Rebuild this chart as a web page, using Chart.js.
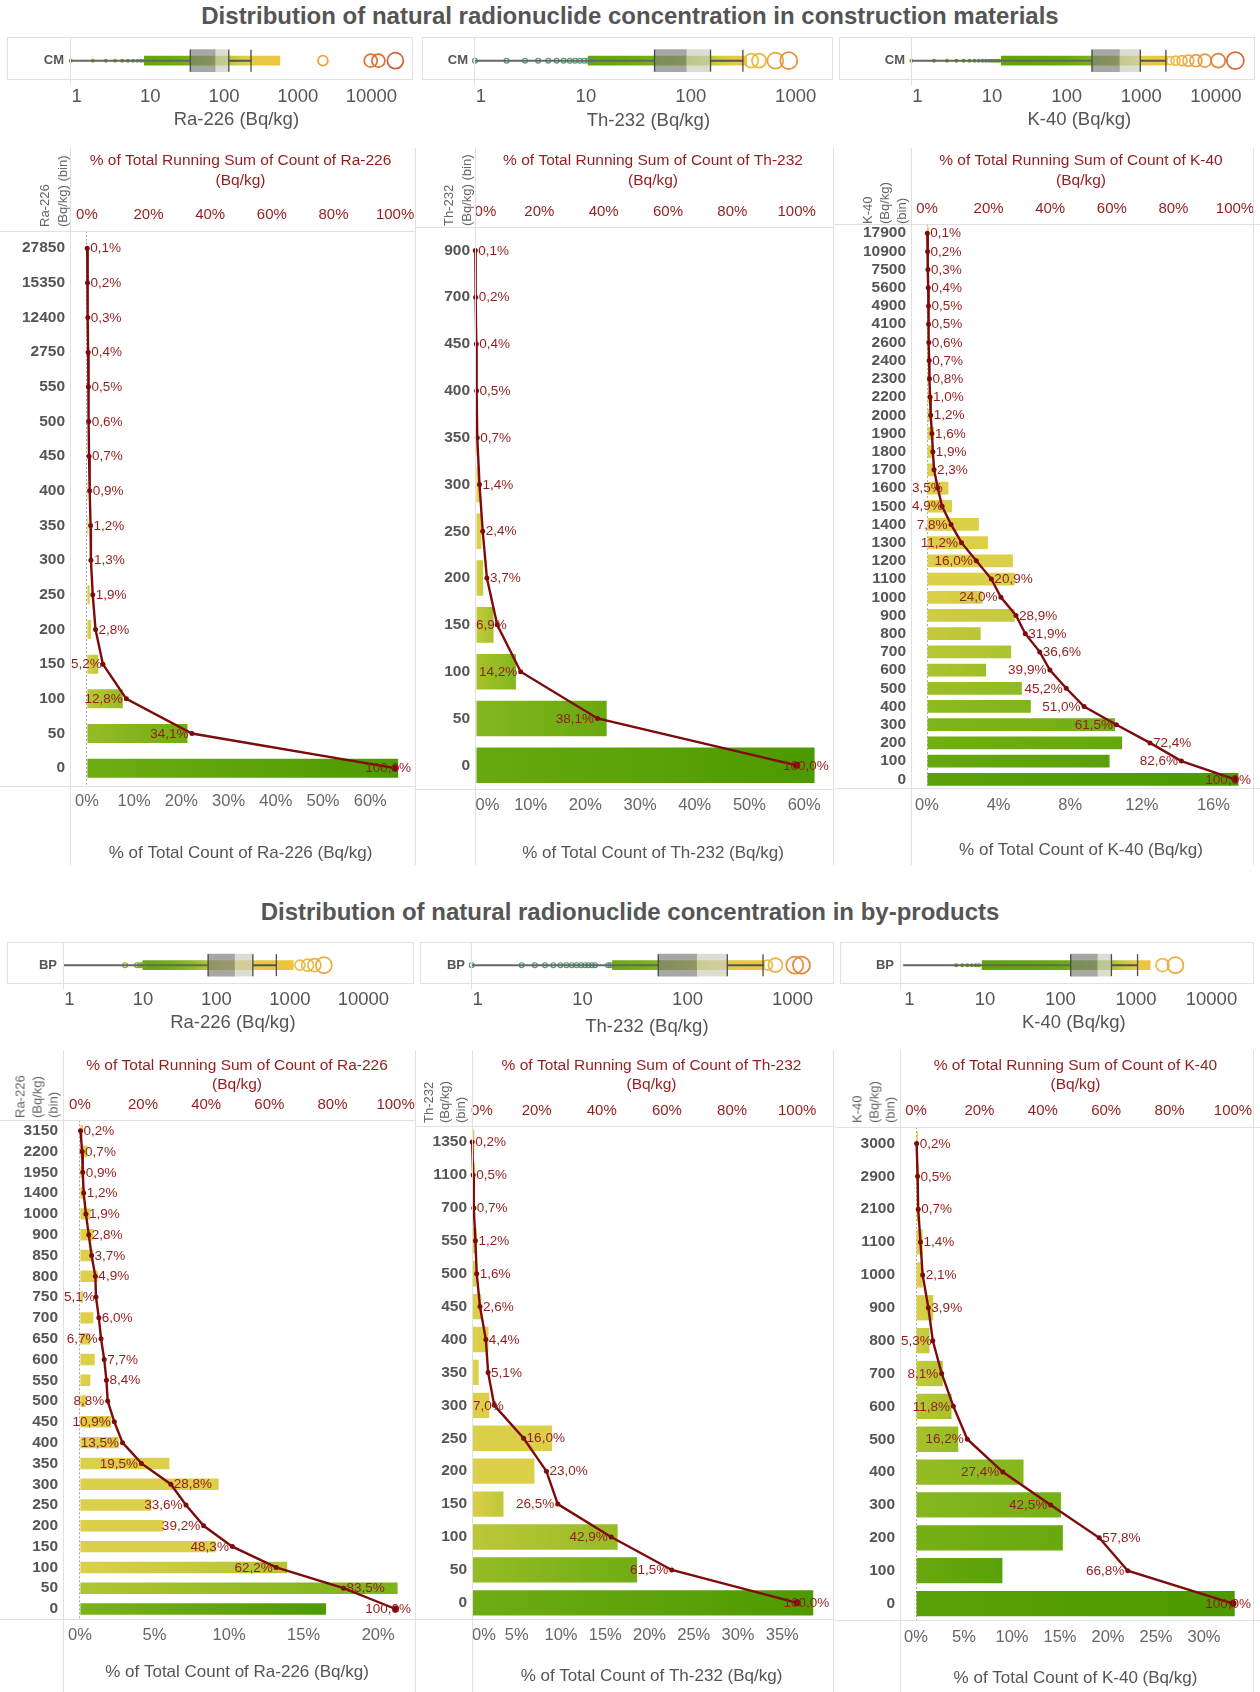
<!DOCTYPE html>
<html><head><meta charset="utf-8">
<script src="https://cdn.jsdelivr.net/npm/chart.js@4.4.1/dist/chart.umd.min.js"></script>
<style>
body{margin:0;background:#fff;width:1260px;height:1692px;position:relative;overflow:hidden;font-family:"Liberation Sans",Arial,sans-serif;}
.title{position:absolute;left:0;width:1260px;text-align:center;font-weight:bold;font-size:24px;line-height:28px;color:#555;}
.hl{position:absolute;height:1px;background:#e1e1e1;}
.vl{position:absolute;width:1px;background:#e1e1e1;}
.ytitle{position:absolute;writing-mode:vertical-rl;transform:rotate(180deg);font-size:13px;color:#666;text-align:start;white-space:nowrap;}
canvas{position:absolute;}
</style></head><body>
<div class="title" style="top:2px">Distribution of natural radionuclide concentration in construction materials</div>
<div class="title" style="top:898px">Distribution of natural radionuclide concentration in by-products</div>
<script>
// ===== Histogram data: bins (Bq/kg), % of total count, % of total running sum =====
// Construction materials (CM)
const raCmBins = ['27850','15350','12400','2750','550','500','450','400','350','300','250','200','150','100','50','0'];
const raCmShare = [0.1,0.1,0.1,0.1,0.1,0.1,0.1,0.2,0.3,0.1,0.6,0.9,2.4,7.6,21.3,65.9];
const raCmRunning = [0.1,0.2,0.3,0.4,0.5,0.6,0.7,0.9,1.2,1.3,1.9,2.8,5.2,12.8,34.1,100.0];

const thCmBins = ['900','700','450','400','350','300','250','200','150','100','50','0'];
const thCmShare = [0.1,0.1,0.2,0.1,0.2,0.7,1.0,1.3,3.2,7.3,23.9,61.9];
const thCmRunning = [0.1,0.2,0.4,0.5,0.7,1.4,2.4,3.7,6.9,14.2,38.1,100.0];

const kCmBins = ['17900','10900','7500','5600','4900','4100','2600','2400','2300','2200','2000','1900','1800','1700','1600','1500','1400','1300','1200','1100','1000','900','800','700','600','500','400','300','200','100','0'];
const kCmShare = [0.1,0.1,0.1,0.1,0.1,0.05,0.1,0.1,0.1,0.2,0.2,0.4,0.3,0.4,1.2,1.4,2.9,3.4,4.8,4.9,3.1,4.9,3.0,4.7,3.3,5.3,5.8,10.5,10.9,10.2,17.4];
const kCmRunning = [0.1,0.2,0.3,0.4,0.5,0.5,0.6,0.7,0.8,1.0,1.2,1.6,1.9,2.3,3.5,4.9,7.8,11.2,16.0,20.9,24.0,28.9,31.9,36.6,39.9,45.2,51.0,61.5,72.4,82.6,100.0];

// By-products (BP)
const raBpBins = ['3150','2200','1950','1400','1000','900','850','800','750','700','650','600','550','500','450','400','350','300','250','200','150','100','50','0'];
const raBpShare = [0.2,0.5,0.2,0.3,0.7,0.9,0.9,1.2,0.2,0.9,0.7,1.0,0.7,0.4,2.1,2.6,6.0,9.3,4.8,5.6,9.1,13.9,21.3,16.5];
const raBpRunning = [0.2,0.7,0.9,1.2,1.9,2.8,3.7,4.9,5.1,6.0,6.7,7.7,8.4,8.8,10.9,13.5,19.5,28.8,33.6,39.2,48.3,62.2,83.5,100.0];

const thBpBins = ['1350','1100','700','550','500','450','400','350','300','250','200','150','100','50','0'];
const thBpShare = [0.2,0.3,0.2,0.5,0.4,1.0,1.8,0.7,1.9,9.0,7.0,3.5,16.4,18.6,38.5];
const thBpRunning = [0.2,0.5,0.7,1.2,1.6,2.6,4.4,5.1,7.0,16.0,23.0,26.5,42.9,61.5,100.0];

const kBpBins = ['3000','2900','2100','1100','1000','900','800','700','600','500','400','300','200','100','0'];
const kBpShare = [0.2,0.3,0.2,0.7,0.7,1.8,1.4,2.8,3.7,4.4,11.2,15.1,15.3,9.0,33.2];
const kBpRunning = [0.2,0.5,0.7,1.4,2.1,3.9,5.3,8.1,11.8,16.2,27.4,42.5,57.8,66.8,100.0];

// ===== Tick labels =====
const runTicks = [0,20,40,60,80,100];
const raCmTicks = [0,10,20,30,40,50,60];
const thCmTicks = [0,10,20,30,40,50,60];
const kCmTicks = [0,4,8,12,16];
const raBpTicks = [0,5,10,15,20];
const thBpTicks = [0,5,10,15,20,25,30,35];
const kBpTicks = [0,5,10,15,20,25,30];
const logTicksWide = [1,10,100,1000,10000];
const logTicksTh = [1,10,100,1000];

// ===== Box plots (Bq/kg): whisker low, Q1, median, Q3, whisker high =====
const raCmBox = [1,42,91,140,280];
const thCmBox = [1,51.5,103,176,358];
const kCmBox = [1,263,611,1167,2570];
const raBpBox = [1,93,212,378,790];
const thBpBox = [1,60,139,273,598];
const kBpBox = [1,164,368,568,1260];
// single low values
const raCmLow = [1,2,3,4,5,6,7,8,9,10,11,12];
const thCmLow = [1,2,3,4,5,6,7,8,9,10,11,12,13];
const kCmLow = [1,2,3,4,5,6,7,8,9,10,11,12,13,14,15];
const raBpLow = [6.9,10,11,12];
const thBpLow = [1,3,4,5,6,7,8,9,10,11,12,13,14,15,20,21];
const kBpLow = [5,6,7,8,9,10];
// dense range of measured values
const raCmDense = [10,690];
const thCmDense = [12,390];
const kCmDense = [16,2700];
const raBpDense = [12,1340];
const thBpDense = [22,620];
const kBpDense = [11,1850];
// outliers and their marker sizes
const raCmOut = [2650,11800,15000,25500];
const raCmOutSize = [5,6.5,6.5,8];
const thCmOut = [430,510,730,980];
const thCmOutSize = [7,7,8,8.5];
const kCmOut = [2950,3470,4230,5130,6500,8530,12900,21900];
const kCmOutSize = [4,4.5,5,5.5,6,6.5,7,8.5];
const raBpOut = [1650,2100,2600,3500];
const raBpOutSize = [5,6,6.5,8];
const thBpOut = [660,785,1200,1390];
const thBpOutSize = [5,7,8.5,8.5];
const kBpOut = [2700,4000];
const kBpOutSize = [6.5,8];

// ===== styles =====
const FONT = '"Liberation Sans", Arial, sans-serif';
Chart.defaults.font.family = FONT;
const RED_LINE = '#7d0b0b';
const RED_TEXT = '#951c1c';
const GRAY = '#555555';

function hex(h){return [parseInt(h.slice(1,3),16),parseInt(h.slice(3,5),16),parseInt(h.slice(5,7),16)];}
function mix(c0,c1,f){const a=hex(c0),b=hex(c1);return 'rgb('+a.map((v,k)=>Math.round(v+(b[k]-v)*f)).join(',')+')';}
const RAMP = [[0,'#4c9a00'],[0.35,'#7db41a'],[0.65,'#afc430'],[1,'#dccf4a']];
function ramp(t){
  t=Math.max(0,Math.min(1,t));
  for(let i=1;i<RAMP.length;i++){ if(t<=RAMP[i][0]){const f=(t-RAMP[i-1][0])/(RAMP[i][0]-RAMP[i-1][0]);return mix(RAMP[i-1][1],RAMP[i][1],f);} }
  return RAMP[RAMP.length-1][1];
}
function outColor(t){ t=Math.max(0,Math.min(1,t)); return t<0.5?mix('#efc445','#e8953c',t/0.5):mix('#e8953c','#cc5530',(t-0.5)/0.5); }

function mkCanvas(l,t,w,h){const c=document.createElement('canvas');c.width=w;c.height=h;c.style.left=l+'px';c.style.top=t+'px';c.style.width=w+'px';c.style.height=h+'px';document.body.appendChild(c);return c;}
function hl(x1,x2,y){const d=document.createElement('div');d.className='hl';d.style.left=x1+'px';d.style.width=(x2-x1)+'px';d.style.top=Math.round(y)+'px';document.body.appendChild(d);}
function vl(x,y1,y2){const d=document.createElement('div');d.className='vl';d.style.left=Math.round(x)+'px';d.style.top=y1+'px';d.style.height=(y2-y1)+'px';document.body.appendChild(d);}
function ytitle(l,bottom,lines,lh){const d=document.createElement('div');d.className='ytitle';d.style.left=l+'px';d.style.top=(bottom-90)+'px';d.style.height='90px';d.style.lineHeight=lh+'px';d.innerHTML=lines.join('<br>');document.body.appendChild(d);}

// labels of running-sum points
const pointLabels = {
  id:'pointLabels',
  afterDatasetsDraw(chart, args, opts){
    const meta = chart.getDatasetMeta(0), data = chart.data.datasets[0].data, ctx = chart.ctx;
    const A = chart.chartArea;
    ctx.save();
    ctx.font = '13.5px '+FONT; ctx.fillStyle = RED_TEXT; ctx.textBaseline='middle'; ctx.textAlign='left';
    meta.data.forEach((pt,i)=>{
      const txt = data[i].toFixed(1).replace('.',',')+'%';
      const w = ctx.measureText(txt).width;
      const s = opts.sides[i];
      let x;
      if(s==='l'){ x = pt.x-3.5-w; if(x<A.left+1) x=A.left+1; }
      else if(s==='c'){ x = pt.x-0.3*w; if(x+w>A.right) x=A.right-w; }
      else x = pt.x+3;
      ctx.fillText(txt,x,pt.y+0.5);
    });
    ctx.restore();
  }
};

function barPanel(P){
  const cv = mkCanvas(P.cl,P.ct,P.cw,P.ch);
  const A = P.area;
  const yW = A.l-P.cl, x2H = A.t-P.ct, xH = P.ct+P.ch-A.b;
  const bMin=(A.l-P.zb)/P.pb, bMax=(A.r-P.zb)/P.pb;
  const tMin=(A.l-P.zt)/P.pt, tMax=(A.r-P.zt)/P.pt;
  const tickLH = 15*1.2, botLH = 16.5*1.2, titleLH = 17*1.2;
  const clamp = (v)=> (P.clampZero && v===0) ? '\u00a0\u00a0\u00a0\u00a0\u00a0'+'0%' : v+'%';
  new Chart(cv,{
    type:'bar',
    data:{labels:P.bins,datasets:[
      {type:'line',data:P.running,xAxisID:'x2',yAxisID:'y',indexAxis:'y',borderColor:RED_LINE,borderWidth:2.4,
       pointRadius:P.running.map((v,i)=>i===P.running.length-1?3.5:2.5),pointBackgroundColor:RED_LINE,pointBorderWidth:0,tension:0,clip:false},
      {type:'bar',data:P.share,xAxisID:'x',yAxisID:'y',indexAxis:'y',barPercentage:P.barPct,categoryPercentage:1,
       backgroundColor:(c)=>{
         if(c.type!=='data') return ramp(0);
         const bin=Number(P.bins[c.dataIndex]);
         const right=ramp(bin/P.sat), left=ramp((bin+P.binW)/P.sat);
         const ch=c.chart, xs=ch.scales&&ch.scales.x;
         if(!ch.chartArea||!xs) return right;
         const x0=xs.getPixelForValue(0), x1=xs.getPixelForValue(P.share[c.dataIndex]);
         if(!(x1>x0+1)) return right;
         const g=ch.ctx.createLinearGradient(x0,0,x1,0); g.addColorStop(0,left); g.addColorStop(1,right); return g;
       }}
    ]},
    options:{
      indexAxis:'y',responsive:false,animation:false,
      layout:{padding:{left:0,top:0,bottom:0,right:P.cl+P.cw-A.r}},
      plugins:{legend:{display:false},tooltip:{enabled:false},pointLabels:{sides:P.sides}},
      scales:{
        y:{type:'category',offset:true,position:'left',grid:{display:false,drawTicks:false},border:{display:false},
           ticks:{autoSkip:false,color:GRAY,font:{size:15.5,weight:'bold'},padding:5},
           afterFit:(s)=>{s.width=yW;s.paddingTop=0;s.paddingBottom=0;}},
        x:{type:'linear',position:'bottom',min:bMin,max:bMax,
           afterBuildTicks:(s)=>{s.ticks=P.bottomTicks.map(v=>({value:v}));},
           ticks:{autoSkip:false,maxRotation:0,color:'#666',font:{size:16.5},padding:P.botTickY-A.b-botLH/2,callback:clamp},
           grid:{drawTicks:false,color:(c)=>(c.tick&&c.tick.value===0&&!P.clampZero)?'#a8a8a8':'rgba(0,0,0,0)',lineWidth:1},
           border:{display:false,dash:[2,2]},
           title:{display:true,text:P.bottomTitle,color:GRAY,font:{size:17},padding:{top:0,bottom:P.ct+P.ch-P.botTitleY-titleLH/2}},
           afterFit:(s)=>{s.height=xH;s.paddingLeft=0;s.paddingRight=0;}},
        x2:{type:'linear',position:'top',min:tMin,max:tMax,
           afterBuildTicks:(s)=>{s.ticks=runTicks.map(v=>({value:v}));},
           ticks:{autoSkip:false,maxRotation:0,color:RED_TEXT,font:{size:15},padding:A.t-P.topTickY-tickLH/2,callback:clamp},
           grid:{display:false,drawTicks:false},border:{display:false},
           title:{display:true,text:[P.topTitle,'(Bq/kg)'],color:RED_TEXT,font:{size:15.5,lineHeight:P.tlh},padding:{top:P.topTitleY-P.ct-15.5*P.tlh/2,bottom:0}},
           afterFit:(s)=>{s.height=x2H;s.paddingLeft=0;s.paddingRight=0;}}
      }
    },
    plugins:[pointLabels]
  });
}

function stripPanel(P){
  const cv = mkCanvas(P.cl,P.ct,P.cw,P.ch);
  const yW = P.aL-P.cl, xH = P.ct+P.ch-P.aB;
  const min = Math.pow(10,(P.aL-P.one)/P.dec), max = Math.pow(10,(P.aR-P.one)/P.dec);
  const cat = P.cat;
  const b = P.box;
  const c1 = P.dense[1];
  const pt = (v)=>({x:v,y:cat});
  const cloudColor = (c)=>{
    const ch=c.chart, xs=ch.scales&&ch.scales.x;
    if(!ch.chartArea||!xs) return ramp(0.5);
    const x0=xs.getPixelForValue(P.dense[0]), x1=xs.getPixelForValue(c1);
    const g=ch.ctx.createLinearGradient(x0,0,x1,0);
    const steps=12;
    for(let i=0;i<=steps;i++){
      const v=P.dense[0]*Math.pow(c1/P.dense[0],i/steps);
      const col = v<=P.sat ? ramp(0.12+0.88*v/P.sat) : mix('#dccf4a','#efc33f',Math.log(v/P.sat)/Math.log(c1/P.sat));
      g.addColorStop(i/steps,col);
    }
    return g;
  };
  const oc = P.out.map(v=>outColor(Math.log(v/c1)/Math.log(max/c1)));
  new Chart(cv,{
    type:'bar',
    data:{labels:[cat],datasets:[
      {type:'scatter',data:[pt(b[1]),pt(b[3]),pt(b[4])],xAxisID:'x',yAxisID:'y',pointStyle:'line',rotation:90,pointRadius:11,borderColor:'#4a4a4a',borderWidth:1.3,clip:false},
      {type:'bar',data:[[b[1],b[2]]],xAxisID:'x',yAxisID:'y',grouped:false,barThickness:22,backgroundColor:'rgba(125,125,122,0.68)'},
      {type:'bar',data:[[b[2],b[3]]],xAxisID:'x',yAxisID:'y',grouped:false,barThickness:22,backgroundColor:'rgba(205,205,192,0.68)'},
      {type:'bar',data:[[b[0],b[1]]],xAxisID:'x',yAxisID:'y',grouped:false,barThickness:1.3,backgroundColor:'#666'},
      {type:'bar',data:[[b[3],b[4]]],xAxisID:'x',yAxisID:'y',grouped:false,barThickness:1.3,backgroundColor:'#555'},
      {type:'scatter',data:P.out.map(pt),xAxisID:'x',yAxisID:'y',pointRadius:P.outSize,borderColor:oc,backgroundColor:'rgba(255,255,255,0)',borderWidth:1.7,clip:false},
      {type:'scatter',data:P.low.map(pt),xAxisID:'x',yAxisID:'y',pointRadius:P.ptOpen?2.4:2,borderColor:P.ptColor,backgroundColor:P.ptOpen?'rgba(255,255,255,0)':P.ptColor,borderWidth:P.ptOpen?1.2:0,clip:false},
      {type:'bar',data:[[P.dense[0],c1]],xAxisID:'x',yAxisID:'y',grouped:false,barThickness:9,backgroundColor:cloudColor}
    ]},
    options:{
      indexAxis:'y',responsive:false,animation:false,
      layout:{padding:{left:0,top:P.aT-P.ct,bottom:0,right:P.cl+P.cw-P.aR}},
      plugins:{legend:{display:false},tooltip:{enabled:false}},
      scales:{
        y:{type:'category',offset:true,grid:{display:false,drawTicks:false},border:{display:false},
           ticks:{color:GRAY,font:{size:13,weight:'bold'},padding:6},
           afterFit:(s)=>{s.width=yW;s.paddingTop=0;s.paddingBottom=0;}},
        x:{type:'logarithmic',position:'bottom',min:min,max:max,
           afterBuildTicks:(s)=>{s.ticks=P.ticks.map(v=>({value:v}));},
           ticks:{autoSkip:false,maxRotation:0,color:GRAY,font:{size:18.5},padding:P.tickY-P.aB-11.1,labelOffset:6,callback:(v)=>String(v)},
           grid:{display:false,drawTicks:false},border:{display:false},
           title:{display:true,text:P.title,color:GRAY,font:{size:18.5},padding:{top:0,bottom:P.ct+P.ch-P.titleY-11.1}},
           afterFit:(s)=>{s.height=xH;s.paddingLeft=0;s.paddingRight=0;}}
      }
    }
  });
  // frame lines
  hl(P.fl,P.fr,P.aT); hl(P.fl,P.fr,P.aB);
  vl(P.fl,P.aT,P.aB); vl(P.fr,P.aT,P.aB+1); vl(P.aL,P.aT,P.aB+6);
}

// ===== strips =====
stripPanel({cl:0,ct:30,cw:415,ch:105,aL:70,aR:410,aT:37,aB:79,one:70.7,dec:75.3,fl:7,fr:412,tickY:97,titleY:120,cat:'CM',ticks:logTicksWide,title:'Ra-226 (Bq/kg)',box:raCmBox,low:raCmLow,dense:raCmDense,out:raCmOut,outSize:raCmOutSize,sat:200,ptColor:'#6aaa1a',ptOpen:false});
stripPanel({cl:415,ct:30,cw:420,ch:105,aL:474,aR:832,aT:37,aB:79,one:475,dec:107.7,fl:422,fr:832,tickY:97,titleY:121,cat:'CM',ticks:logTicksTh,title:'Th-232 (Bq/kg)',box:thCmBox,low:thCmLow,dense:thCmDense,out:thCmOut,outSize:thCmOutSize,sat:250,ptColor:'#4e9a6e',ptOpen:true});
stripPanel({cl:835,ct:30,cw:425,ch:105,aL:911,aR:1248,aT:37,aB:79,one:911.4,dec:74.7,fl:839,fr:1254,tickY:97,titleY:120,cat:'CM',ticks:logTicksWide,title:'K-40 (Bq/kg)',box:kCmBox,low:kCmLow,dense:kCmDense,out:kCmOut,outSize:kCmOutSize,sat:1100,ptColor:'#5fa514',ptOpen:false});
stripPanel({cl:0,ct:935,cw:415,ch:105,aL:63,aR:413,aT:942,aB:983,one:63.5,dec:75.7,fl:7,fr:413,tickY:1000,titleY:1023,cat:'BP',ticks:logTicksWide,title:'Ra-226 (Bq/kg)',box:raBpBox,low:raBpLow,dense:raBpDense,out:raBpOut,outSize:raBpOutSize,sat:150,ptColor:'#7ab020',ptOpen:true});
stripPanel({cl:415,ct:935,cw:420,ch:105,aL:471,aR:832,aT:942,aB:983,one:471.7,dec:107.7,fl:420,fr:833,tickY:1000,titleY:1027,cat:'BP',ticks:logTicksTh,title:'Th-232 (Bq/kg)',box:thBpBox,low:thBpLow,dense:thBpDense,out:thBpOut,outSize:thBpOutSize,sat:200,ptColor:'#4e9a6e',ptOpen:true});
stripPanel({cl:835,ct:935,cw:425,ch:105,aL:900,aR:1250,aT:942,aB:983,one:903.5,dec:76,fl:840,fr:1253,tickY:1000,titleY:1023,cat:'BP',ticks:logTicksWide,title:'K-40 (Bq/kg)',box:kBpBox,low:kBpLow,dense:kBpDense,out:kBpOut,outSize:kBpOutSize,sat:1000,ptColor:'#5fa514',ptOpen:false});

// ===== histogram panels =====
const row1 = {ct:140,ch:730,topTitleY:161,tlh:1.28};
const row2 = {ct:1045,ch:647,topTitleY:1065.6,tlh:1.24};
const panels = [
  Object.assign({cl:0,cw:415,area:{l:70,t:230.8,r:413,b:785.5},zb:87,pb:4.75,zt:87,pt:3.1,topTickY:214.6,botTickY:801.7,botTitleY:853,
    bins:raCmBins,share:raCmShare,running:raCmRunning,bottomTicks:raCmTicks,sat:200,binW:50,barPct:0.55,
    sides:'rrrrrrrrrrrrlllc',topTitle:'% of Total Running Sum of Count of Ra-226',bottomTitle:'% of Total Count of Ra-226 (Bq/kg)'},row1),
  Object.assign({cl:415,cw:420,area:{l:475,t:227,r:833,b:788.7},zb:476,pb:5.5,zt:475,pt:3.235,topTickY:212.2,botTickY:805.4,botTitleY:853,clampZero:true,
    bins:thCmBins,share:thCmShare,running:thCmRunning,bottomTicks:thCmTicks,sat:250,binW:50,barPct:0.76,
    sides:'rrrrrrrrlllc',topTitle:'% of Total Running Sum of Count of Th-232',bottomTitle:'% of Total Count of Th-232 (Bq/kg)'},row1),
  Object.assign({cl:835,cw:425,area:{l:911,t:224.1,r:1251,b:788.4},zb:927,pb:17.9,zt:927,pt:3.08,topTickY:209,botTickY:805.4,botTitleY:850.6,
    bins:kCmBins,share:kCmShare,running:kCmRunning,bottomTicks:kCmTicks,sat:1100,binW:100,barPct:0.7,
    sides:'rrrrrrrrrrrrrrlllllrlrrrllllrlc',topTitle:'% of Total Running Sum of Count of K-40',bottomTitle:'% of Total Count of K-40 (Bq/kg)'},row1),
  Object.assign({cl:0,cw:415,area:{l:63,t:1120.3,r:413,b:1619.4},zb:80,pb:15.0,zt:80,pt:3.175,topTickY:1104.5,botTickY:1635.6,botTitleY:1672.4,
    bins:raBpBins,share:raBpShare,running:raBpRunning,bottomTicks:raBpTicks,sat:150,binW:50,barPct:0.55,
    sides:'rrrrrrrrlrlrrllllrllllrc',topTitle:'% of Total Running Sum of Count of Ra-226',bottomTitle:'% of Total Count of Ra-226 (Bq/kg)'},row2),
  Object.assign({cl:415,cw:420,area:{l:472,t:1125.6,r:833,b:1619.3},zb:472.5,pb:8.9,zt:471.5,pt:3.275,topTickY:1110.6,botTickY:1635.6,botTitleY:1676.5,clampZero:true,
    bins:thBpBins,share:thBpShare,running:thBpRunning,bottomTicks:thBpTicks,sat:200,binW:50,barPct:0.77,
    sides:'rrrrrrrrlrrlllc',topTitle:'% of Total Running Sum of Count of Th-232',bottomTitle:'% of Total Count of Th-232 (Bq/kg)'},row2),
  Object.assign({cl:835,cw:425,area:{l:900,t:1127,r:1251,b:1620},zb:916,pb:9.6,zt:916,pt:3.17,topTickY:1110.6,botTickY:1637.6,botTitleY:1678.6,
    bins:kBpBins,share:kBpShare,running:kBpRunning,bottomTicks:kBpTicks,sat:1000,binW:100,barPct:0.77,
    sides:'rrrrrrllllllrlc',topTitle:'% of Total Running Sum of Count of K-40',bottomTitle:'% of Total Count of K-40 (Bq/kg)'},row2)
];
panels.forEach(barPanel);

// pane borders
[[0,415,panels[0]],[415,835,panels[1]],[835,1260,panels[2]],[0,415,panels[3]],[415,835,panels[4]],[835,1260,panels[5]]].forEach(([a,b,p])=>{hl(a,b,p.area.t);hl(a,b,p.area.b);});
[70,415,475,833,911,1253].forEach(x=>vl(x,148,865));
[63,415,472,833,900,1253].forEach(x=>vl(x,1050,1692));

// y-axis titles
ytitle(36,227,['Ra-226','(Bq/kg) (bin)'],18);
ytitle(440,226,['Th-232','(Bq/kg) (bin)'],18);
ytitle(859,224,['K-40','(Bq/kg)','(bin)'],17);
ytitle(13,1118,['Ra-226','(Bq/kg)','(bin)'],16.5);
ytitle(421,1123,['Th-232','(Bq/kg)','(bin)'],16);
ytitle(850,1123,['K-40','(Bq/kg)','(bin)'],16.5);
</script>
</body></html>
